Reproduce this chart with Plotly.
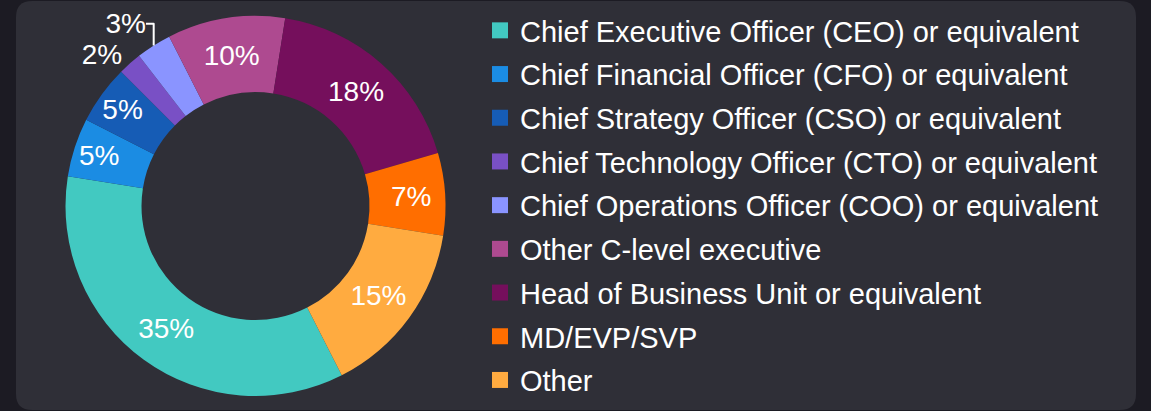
import plotly.graph_objects as go

roles = [
    "Chief Executive Officer (CEO) or equivalent",
    "Chief Financial Officer (CFO) or equivalent",
    "Chief Strategy Officer (CSO) or equivalent",
    "Chief Technology Officer (CTO) or equivalent",
    "Chief Operations Officer (COO) or equivalent",
    "Other C-level executive",
    "Head of Business Unit or equivalent",
    "MD/EVP/SVP",
    "Other",
]
shares = [35, 5, 5, 2, 3, 10, 18, 7, 15]
colors = ["#42C9C1", "#1B8CE3", "#165CB5", "#7950C5", "#8A94FF",
          "#AE4A90", "#750F5C", "#FF6E00", "#FFAB40"]
label_pos = ["inside", "inside", "inside", "outside", "outside",
             "inside", "inside", "inside", "inside"]

W, H = 1151, 411
FONT = "Liberation Sans, Arial, sans-serif"

fig = go.Figure(go.Pie(
    labels=roles,
    values=shares,
    sort=False,
    direction="clockwise",
    rotation=153,
    hole=0.6,
    marker=dict(colors=colors, line=dict(width=0)),
    texttemplate="%{value}%",
    textposition=label_pos,
    insidetextorientation="horizontal",
    textfont=dict(color="white", size=28, family=FONT),
    outsidetextfont=dict(color="white", size=28, family=FONT),
    hoverinfo="label+percent",
    showlegend=False,
    domain=dict(x=[(255.5 - 190) / W, (255.5 + 190) / W],
                y=[15 / H, 395 / H]),
))

# legend entries: one per role so the rows can be spaced apart
for role, c in zip(roles, colors):
    fig.add_trace(go.Scatter(
        x=[None], y=[None], mode="markers", name=role, legendgroup=role,
        marker=dict(symbol="square", size=16, color=c),
    ))

# rounded dark panel behind everything
x0, x1, y0, y1, r = 16 / W, 1136 / W, 1 - 410 / H, 1 - 1 / H, 16
rx, ry = r / W, r / H
panel = (f"M {x0+rx},{y0} L {x1-rx},{y0} Q {x1},{y0} {x1},{y0+ry} "
         f"L {x1},{y1-ry} Q {x1},{y1} {x1-rx},{y1} L {x0+rx},{y1} "
         f"Q {x0},{y1} {x0},{y1-ry} L {x0},{y0+ry} Q {x0},{y0} {x0+rx},{y0} Z")
fig.add_shape(type="path", path=panel, xref="paper", yref="paper",
              fillcolor="#2F2F37", line=dict(width=0), layer="below")

fig.update_layout(
    width=W, height=H,
    margin=dict(l=0, r=0, t=0, b=0),
    paper_bgcolor="#1C1B23",
    plot_bgcolor="rgba(0,0,0,0)",
    font=dict(family=FONT, color="white"),
    xaxis=dict(visible=False),
    yaxis=dict(visible=False),
    legend=dict(x=480 / W, y=1 - 5 / H, xanchor="left", yanchor="top",
                font=dict(size=29, color="white", family=FONT),
                tracegroupgap=3, itemsizing="trace",
                bgcolor="rgba(0,0,0,0)"),
)

fig.write_html("out.html", config={"displayModeBar": False},
               post_script="document.body.style.margin='0';")
